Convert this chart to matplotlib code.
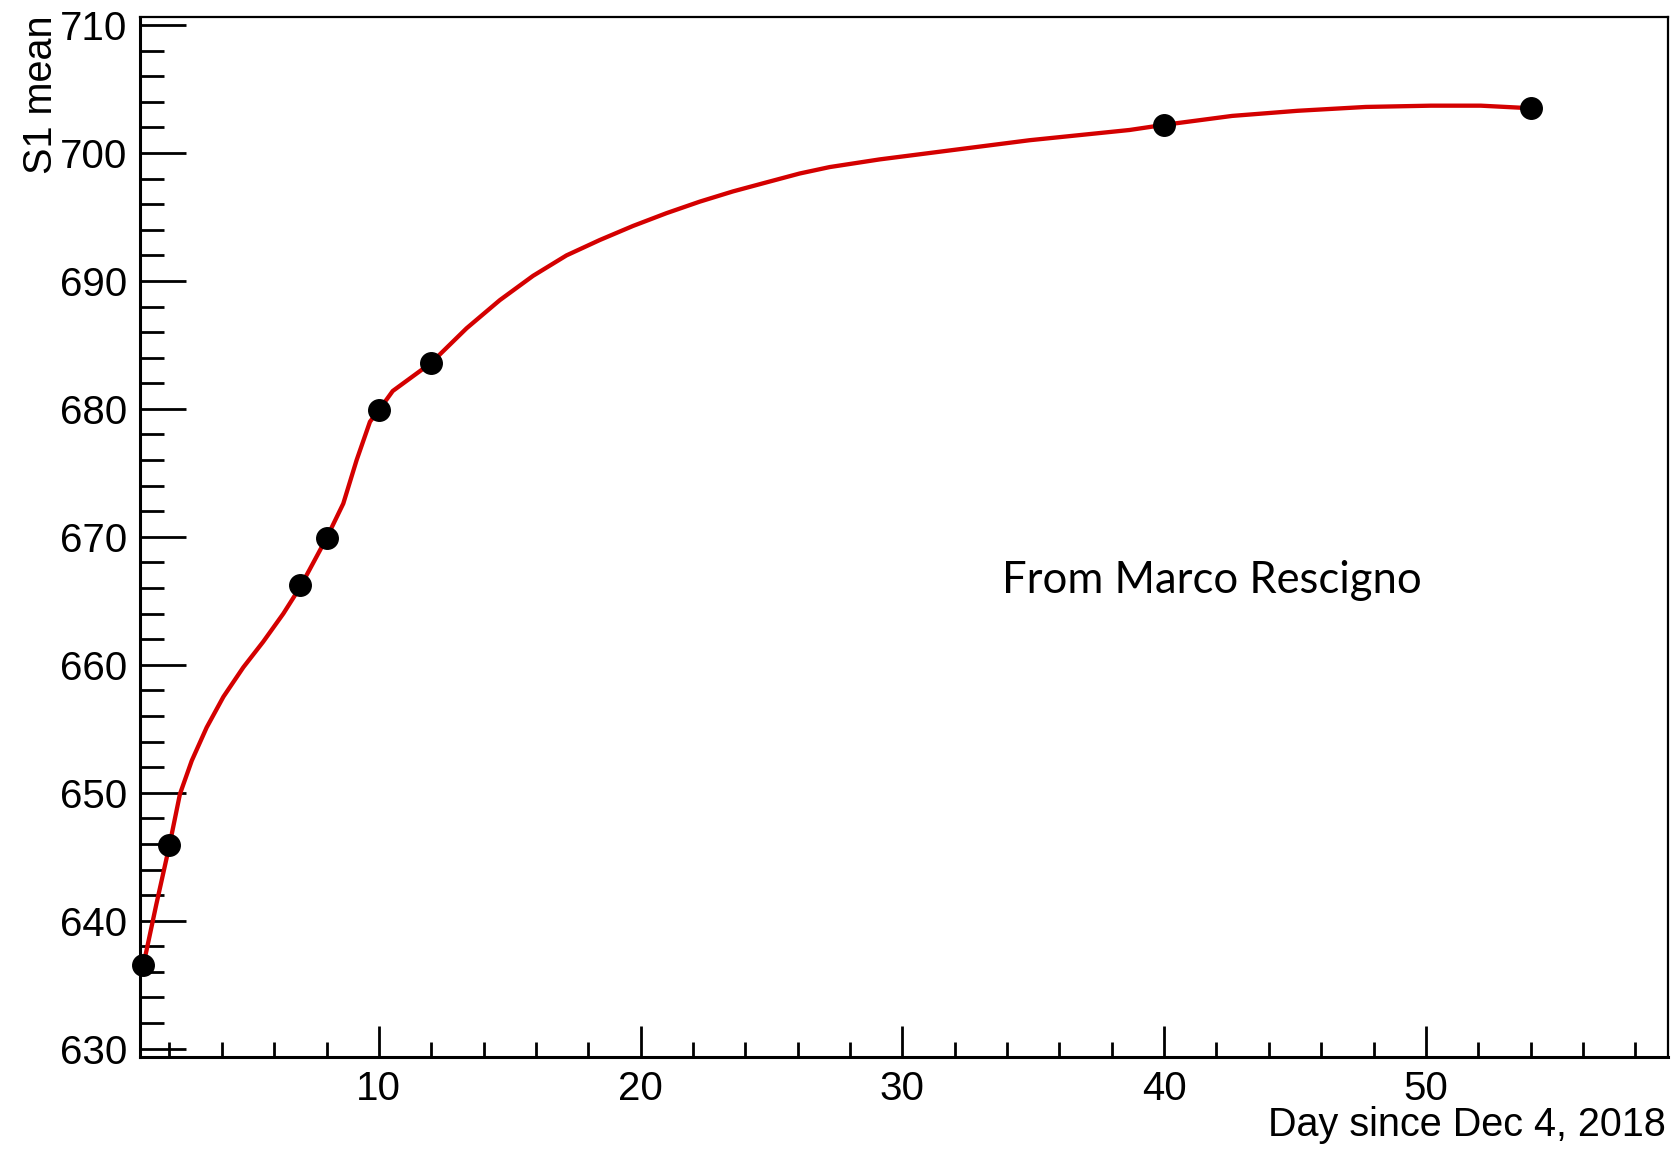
import numpy as np
import matplotlib
matplotlib.use("Agg")
import matplotlib.pyplot as plt
from matplotlib.ticker import MultipleLocator

# measured points (day, S1 mean)
days = [1, 2, 7, 8, 10, 12, 40, 54]
s1_mean = [636.5, 645.9, 666.2, 669.9, 679.9, 683.6, 702.2, 703.5]

# red smooth curve
curve_x = [1, 1.5, 2, 2.4, 2.85, 3.42, 4.06, 4.82, 5.58, 6.35, 7, 8,
           8.64, 9.15, 9.66, 10, 10.53, 12, 13.35, 14.62, 15.89, 17.17,
           18.44, 19.71, 20.99, 22.26, 23.53, 24.8, 26.08, 27.22, 29.13,
           31.04, 32.95, 34.86, 36.77, 38.68, 40, 41.3, 42.6, 45.1, 47.7,
           50.2, 52.1, 54]
curve_y = [636.5, 641.3, 645.9, 649.9, 652.5, 655.1, 657.5, 659.8, 661.8,
           664.0, 666.1, 669.9, 672.6, 676.0, 679.0, 679.9, 681.4, 683.6,
           686.3, 688.5, 690.4, 692.0, 693.2, 694.3, 695.3, 696.2, 697.0,
           697.7, 698.4, 698.9, 699.5, 700.0, 700.5, 701.0, 701.4, 701.8,
           702.2, 702.55, 702.9, 703.3, 703.6, 703.7, 703.7, 703.5]

plt.rcParams['font.family'] = ['Liberation Sans', 'DejaVu Sans']

fig = plt.figure(figsize=(16.75, 11.49), dpi=100)
ax = fig.add_axes([0.0836, 0.0801, 0.9122, 0.9051])

ax.plot(curve_x, curve_y, color='#d40000', lw=3.1, zorder=2, clip_on=False)
ax.plot(days, s1_mean, 'o', color='black', markersize=15.5, zorder=3, clip_on=False)

ax.set_xlim(0.875, 59.25)
ax.set_ylim(629.35, 710.63)

ax.xaxis.set_major_locator(MultipleLocator(10))
ax.xaxis.set_minor_locator(MultipleLocator(2))
ax.yaxis.set_major_locator(MultipleLocator(10))
ax.yaxis.set_minor_locator(MultipleLocator(2))

ax.tick_params(axis='both', which='both', direction='in', top=False, right=False,
               width=2, colors='black')
ax.tick_params(axis='y', which='major', length=33, pad=9, labelsize=29)
ax.tick_params(axis='y', which='minor', length=17)
ax.tick_params(axis='x', which='major', length=22, pad=9.5, labelsize=29)
ax.tick_params(axis='x', which='minor', length=11)

for side in ['left', 'bottom']:
    ax.spines[side].set_linewidth(2.2)
for side in ['top', 'right']:
    ax.spines[side].set_linewidth(1.6)

fig.text(0.9946, 0.0209, "Day since Dec 4, 2018", ha='right', va='center', fontsize=28.5)
fig.text(0.013, 0.987, "S1 mean", ha='left', va='top', rotation=90, fontsize=28.5)

ax.text(0.5985, 0.495, "From Marco Rescigno", transform=fig.transFigure,
        ha='left', va='center', fontsize=31.4, family=['Lato', 'DejaVu Sans'])

fig.savefig('out.png', dpi=100)
